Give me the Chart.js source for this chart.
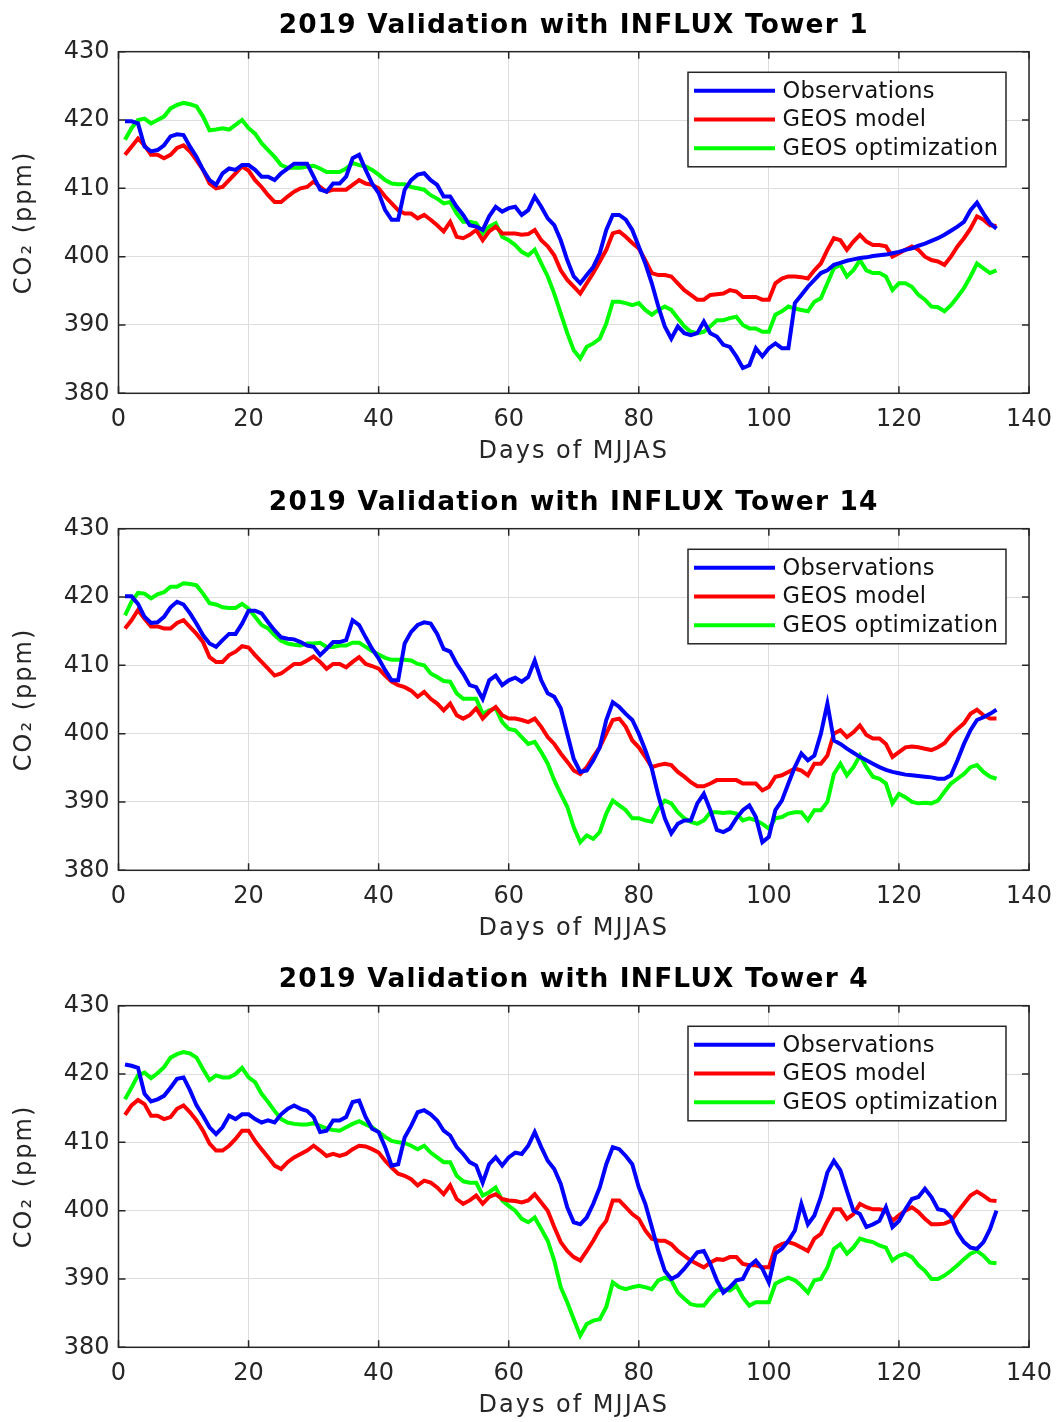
<!DOCTYPE html>
<html><head><meta charset="utf-8">
<script src="https://cdn.jsdelivr.net/npm/chart.js@4.4.1/dist/chart.umd.min.js"></script>
<style>
html,body{margin:0;padding:0;background:#fff;width:1056px;height:1422px;overflow:hidden;}
.panel{position:absolute;left:0;width:1056px;height:477px;}
canvas{display:block;}
</style></head><body>
<div class="panel" style="top:0px"><canvas id="c1" width="1056" height="477"></canvas></div>
<div class="panel" style="top:477px"><canvas id="c2" width="1056" height="477"></canvas></div>
<div class="panel" style="top:954px"><canvas id="c3" width="1056" height="477"></canvas></div>
<script>
const days = [1,2,3,4,5,6,7,8,9,10,11,12,13,14,15,16,17,18,19,20,21,22,23,24,25,26,27,28,29,30,31,32,33,34,35,36,37,38,39,40,41,42,43,44,45,46,47,48,49,50,51,52,53,54,55,56,57,58,59,60,61,62,63,64,65,66,67,68,69,70,71,72,73,74,75,76,77,78,79,80,81,82,83,84,85,86,87,88,89,90,91,92,93,94,95,96,97,98,99,100,101,102,103,104,105,106,107,108,109,110,111,112,113,114,115,116,117,118,119,120,121,122,123,124,125,126,127,128,129,130,131,132,133,134,135];
const seriesNames = ['Observations','GEOS model','GEOS optimization'];
const panelTitles = ['2019 Validation with INFLUX Tower 1','2019 Validation with INFLUX Tower 14','2019 Validation with INFLUX Tower 4'];
const xTicks = [0,20,40,60,80,100,120,140];
const yTicks = [380,390,400,410,420,430];

const t1Obs = [419.8,419.8,419.5,416.1,415.4,415.6,416.3,417.6,417.9,417.8,
416.1,414.6,412.7,411.2,410.5,412.2,412.9,412.7,413.4,413.4,
412.7,411.7,411.7,411.2,412.2,412.9,413.6,413.6,413.6,411.7,
409.8,409.5,410.7,410.7,411.7,414.4,414.9,412.7,410.7,409.3,
406.8,405.4,405.4,409.8,411.2,412.0,412.2,411.2,410.5,408.8,
408.8,407.3,406.1,404.6,404.4,403.9,405.9,407.3,406.6,407.1,
407.3,406.1,406.8,408.8,407.3,405.6,404.6,402.4,399.5,397.1,
396.1,397.3,398.5,400.5,403.9,406.1,406.1,405.4,403.9,401.5,
399.0,396.1,392.7,389.8,388.0,389.8,388.8,388.5,388.8,390.5,
388.8,388.3,387.1,386.8,385.4,383.7,384.1,386.6,385.4,386.6,
387.3,386.6,386.6,393.2,394.4,395.6,396.6,397.6,398.0,398.8,
399.1,399.4,399.6,399.8,399.9,400.1,400.2,400.3,400.5,400.7,
401.0,401.2,401.6,401.9,402.3,402.7,403.2,403.8,404.4,405.1,
406.8,407.9,406.3,404.9,404.1];
const t1Model = [414.9,416.1,417.3,416.3,414.9,414.9,414.4,414.9,415.9,416.3,
415.4,414.1,412.7,410.7,410.0,410.2,411.2,412.2,413.2,412.6,
411.2,410.2,409.0,408.0,408.0,408.8,409.5,410.0,410.2,411.0,
410.2,409.5,409.8,409.8,409.8,410.5,411.2,410.7,410.5,410.0,
408.8,407.8,406.8,406.3,406.3,405.6,406.1,405.4,404.6,403.7,
405.1,402.9,402.7,403.2,403.9,402.4,403.7,404.4,403.4,403.4,
403.4,403.2,403.3,403.9,402.4,401.5,400.2,398.0,396.6,395.6,
394.6,396.1,397.6,399.3,401.0,403.4,403.7,402.9,402.0,401.2,
399.5,397.6,397.3,397.3,397.1,396.1,395.1,394.4,393.7,393.7,
394.4,394.5,394.6,395.1,394.9,394.1,394.1,394.1,393.7,393.7,
396.1,396.8,397.1,397.1,397.0,396.8,398.0,399.0,401.0,402.7,
402.4,401.0,402.2,403.2,402.2,401.7,401.7,401.5,400.0,400.5,
401.0,401.5,401.0,400.0,399.5,399.3,398.8,400.0,401.5,402.7,
404.1,405.9,405.4,404.6,404.5];
const t1Opt = [417.1,418.8,420.0,420.2,419.5,420.0,420.5,421.7,422.2,422.5,
422.3,422.0,420.5,418.5,418.6,418.8,418.6,419.3,420.0,418.8,
418.0,416.6,415.6,414.6,413.4,413.0,413.0,413.0,413.2,413.3,
412.9,412.4,412.4,412.4,412.9,413.7,413.4,413.2,412.7,412.0,
411.2,410.7,410.6,410.6,410.2,410.0,409.8,409.0,408.5,407.8,
408.0,406.3,405.1,405.1,404.9,403.4,404.4,404.9,402.9,402.4,
401.7,400.7,400.2,401.0,399.0,397.1,394.6,391.7,388.8,386.3,
385.1,386.8,387.3,388.0,390.2,393.4,393.4,393.2,392.9,393.2,
392.2,391.5,392.2,392.7,392.2,391.0,389.8,389.0,388.8,389.0,
389.8,390.7,390.7,391.0,391.2,390.0,389.5,389.5,389.0,389.0,
391.5,392.0,392.7,392.4,392.2,392.0,393.4,393.9,396.1,398.3,
398.8,397.1,398.0,399.5,398.0,397.6,397.6,397.1,395.1,396.1,
396.1,395.6,394.4,393.7,392.7,392.6,392.0,392.9,394.1,395.4,
397.1,399.0,398.3,397.6,398.0];

const t14Obs = [420.1,420.1,419.0,417.1,416.2,416.3,417.1,418.5,419.3,418.9,
417.6,416.1,414.4,413.2,412.7,413.7,414.6,414.6,416.1,418.0,
418.0,417.6,416.3,415.1,414.1,413.9,413.8,413.4,412.9,412.7,
411.5,412.4,413.4,413.4,413.7,416.6,415.9,414.1,412.4,411.0,
409.3,407.8,407.8,413.2,414.9,415.9,416.3,416.1,414.6,412.4,
412.0,410.2,408.8,407.1,406.8,405.1,407.8,408.5,407.1,407.8,
408.2,407.6,408.3,410.7,407.8,405.9,405.4,403.7,400.0,396.3,
394.4,394.6,396.1,398.0,402.0,404.6,403.9,402.9,402.0,400.0,
397.6,394.9,391.0,387.6,385.4,386.8,387.3,387.3,389.8,391.2,
388.8,385.9,385.6,386.1,387.6,388.8,389.5,387.8,384.1,384.9,
388.8,390.2,392.7,395.1,397.1,396.1,396.8,400.0,404.4,399.0,
398.5,397.8,397.2,396.6,396.1,395.6,395.1,394.7,394.4,394.2,
394.0,393.9,393.8,393.7,393.6,393.4,393.4,393.9,396.1,398.5,
400.5,402.0,402.4,402.9,403.5];
const t14Model = [415.4,416.6,418.1,416.8,415.7,415.7,415.4,415.4,416.2,416.6,
415.6,414.6,413.4,411.2,410.5,410.5,411.5,412.0,412.8,412.6,
411.5,410.5,409.5,408.5,408.8,409.5,410.2,410.2,410.7,411.3,
410.5,409.5,410.2,410.2,409.7,410.5,411.2,410.2,409.9,409.5,
408.5,407.6,407.1,406.8,406.3,405.4,406.1,405.1,404.4,403.4,
404.4,402.7,402.2,402.7,403.7,402.2,403.2,403.9,402.7,402.2,
402.2,402.0,401.7,402.2,401.0,399.5,398.5,397.1,395.9,394.6,
394.1,395.1,396.6,398.0,400.0,402.0,402.2,401.0,399.0,398.0,
396.6,395.1,395.4,395.6,395.4,394.4,393.7,392.9,392.3,392.3,
392.7,393.2,393.2,393.2,393.2,392.7,392.7,392.7,391.7,392.2,
393.7,393.9,394.4,394.9,394.6,393.9,395.6,395.6,396.8,400.0,
400.5,399.5,400.2,401.2,399.8,399.3,399.3,398.5,396.6,397.3,
398.0,398.1,398.0,397.8,397.6,398.0,398.6,399.8,400.7,401.5,
402.9,403.5,402.7,402.2,402.2];
const t14Opt = [417.3,419.3,420.6,420.5,419.8,420.4,420.7,421.5,421.5,422.0,
421.9,421.7,420.5,419.1,418.9,418.5,418.4,418.4,419.0,418.3,
417.1,415.9,415.4,414.4,413.6,413.2,413.0,412.9,413.2,413.2,
413.3,412.7,412.7,412.9,412.9,413.3,413.3,412.7,412.1,411.6,
411.1,410.8,410.8,410.8,410.7,410.2,410.0,408.8,408.3,407.7,
407.6,405.9,405.1,405.1,405.1,402.9,403.4,403.7,401.7,400.7,
400.5,399.5,398.5,398.8,397.3,395.6,393.2,391.2,389.3,386.3,
384.1,385.1,384.6,385.6,388.3,390.2,389.5,388.8,387.6,387.6,
387.3,387.1,389.0,390.2,389.8,388.5,387.6,387.1,386.8,387.3,
388.5,388.5,388.4,388.5,388.3,387.3,387.6,387.3,386.8,386.1,
387.6,387.8,388.3,388.5,388.5,387.3,388.8,388.8,390.0,394.1,
395.6,393.9,395.1,396.8,395.1,393.7,393.4,392.7,389.8,391.2,
390.7,390.0,389.8,389.9,389.8,390.2,391.5,392.7,393.4,394.1,
395.1,395.4,394.4,393.7,393.4];

const t4Obs = [421.4,421.2,420.9,417.1,416.0,416.3,416.8,418.0,419.3,419.5,
417.6,415.4,413.9,412.2,411.2,412.2,413.9,413.4,414.1,414.1,
413.4,412.9,413.2,412.9,414.1,414.9,415.4,414.9,414.6,413.7,
411.5,411.7,413.2,413.2,413.7,415.9,416.1,413.7,412.0,411.5,
409.3,406.6,406.8,410.7,412.4,414.4,414.7,414.1,413.2,411.7,
411.0,409.3,408.3,407.1,406.6,404.1,406.8,407.8,406.6,407.8,
408.5,408.3,409.5,411.5,409.3,407.3,406.1,403.9,400.5,398.3,
398.0,399.0,401.0,403.4,406.8,409.3,409.0,408.0,406.8,403.4,
401.0,397.6,394.1,391.2,390.0,390.5,391.5,392.7,393.9,394.1,
392.2,389.8,388.0,388.8,389.8,390.0,391.9,392.7,391.5,389.5,
393.7,394.4,395.6,397.1,401.0,398.0,399.3,402.0,405.6,407.3,
405.9,402.9,400.0,399.5,397.6,398.0,398.5,400.5,397.6,398.5,
400.2,401.7,402.0,403.2,402.0,400.2,400.0,399.0,396.8,395.4,
394.6,394.4,395.4,397.3,400.0];
const t4Model = [414.0,415.4,416.2,415.6,413.9,413.9,413.4,413.7,414.9,415.4,
414.4,413.2,411.7,409.8,408.8,408.8,409.5,410.5,411.7,411.7,
410.2,409.0,407.8,406.6,406.1,407.1,407.8,408.3,408.8,409.5,
408.8,408.0,408.3,408.0,408.3,409.0,409.5,409.4,409.0,408.5,
407.3,406.3,405.4,405.1,404.6,403.7,404.4,404.1,403.4,402.4,
403.7,401.7,401.0,401.5,402.2,401.0,402.0,402.4,401.7,401.5,
401.4,401.2,401.5,402.4,401.2,400.0,397.6,395.4,394.1,393.2,
392.7,394.1,395.6,397.3,398.5,401.5,401.5,400.5,399.5,398.8,
397.1,395.9,395.6,395.6,395.1,394.1,393.4,392.7,392.2,391.7,
392.4,392.9,392.8,393.2,393.2,392.2,392.0,392.0,391.7,391.7,
394.6,395.1,395.4,395.1,394.6,394.1,395.9,396.6,398.5,400.2,
400.2,398.8,399.5,401.0,400.5,400.2,400.2,400.0,398.5,399.3,
400.0,400.5,399.8,398.8,398.0,398.0,398.1,398.5,399.8,401.0,
402.2,402.8,402.2,401.5,401.4];
const t4Opt = [416.3,418.0,419.8,420.2,419.4,420.1,421.0,422.4,422.9,423.2,
423.0,422.4,420.7,419.1,419.8,419.5,419.5,420.0,420.9,419.5,
418.8,417.1,415.9,414.6,413.4,412.9,412.7,412.6,412.6,412.8,
412.4,412.0,411.8,411.7,412.2,412.7,413.1,412.6,412.2,411.5,
410.8,410.2,410.0,409.9,409.5,409.0,409.5,408.5,407.8,407.1,
407.1,405.1,404.3,404.1,404.1,402.2,402.7,403.4,401.5,400.7,
400.0,398.8,398.3,399.0,397.3,395.6,392.7,388.8,386.6,384.1,
381.7,383.4,383.9,384.1,385.9,389.5,388.8,388.5,388.8,389.0,
388.8,388.5,389.8,390.2,389.8,388.0,387.1,386.3,386.1,386.1,
387.3,388.3,388.5,388.3,389.0,387.3,386.1,386.6,386.6,386.6,
389.3,389.8,390.2,389.8,389.0,388.0,389.8,390.0,391.7,394.4,
395.1,393.7,394.6,395.9,395.6,395.4,394.9,394.6,392.7,393.4,
393.7,393.2,392.0,391.2,390.0,390.0,390.5,391.2,392.0,392.9,
393.7,394.1,393.4,392.4,392.3];

const FONT = '"DejaVu Sans", "Liberation Sans", sans-serif';
const INK = '#262626';
const COLORS = ['#0000ff', '#ff0000', '#00ff00'];

// letter spacing for titles (MATLAB-like text rendering)
const spacingPlugin = {
  id: 'spacing',
  afterLayout(chart) {
    const wrap = (obj, fn, sp) => {
      if (!obj || obj['__wrapped_' + fn]) return;
      const orig = obj[fn];
      obj[fn] = function (...args) {
        const ctx = chart.ctx;
        const prev = ctx.letterSpacing;
        ctx.letterSpacing = sp;
        try { return orig.apply(this, args); }
        finally { ctx.letterSpacing = prev || '0px'; }
      };
      obj['__wrapped_' + fn] = true;
    };
    wrap(chart.scales.x, 'drawTitle', '2px');
    wrap(chart.scales.y, 'drawTitle', '2px');
    wrap(chart.titleBlock, 'draw', '1.2px');
  }
};

const framePlugin = {
  id: 'frame',
  afterDatasetsDraw(chart) {
    const {ctx, chartArea: a, scales} = chart;
    ctx.save();
    ctx.strokeStyle = INK;
    ctx.lineWidth = 1.5;
    ctx.strokeRect(a.left, a.top, a.right - a.left, a.bottom - a.top);
    const tl = 7;
    ctx.beginPath();
    xTicks.forEach(v => {
      const px = scales.x.getPixelForValue(v);
      ctx.moveTo(px, a.bottom); ctx.lineTo(px, a.bottom - tl);
      ctx.moveTo(px, a.top); ctx.lineTo(px, a.top + tl);
    });
    yTicks.forEach(v => {
      const py = scales.y.getPixelForValue(v);
      ctx.moveTo(a.left, py); ctx.lineTo(a.left + tl, py);
      ctx.moveTo(a.right, py); ctx.lineTo(a.right - tl, py);
    });
    ctx.stroke();
    ctx.restore();
  }
};

const legendPlugin = {
  id: 'boxLegend',
  afterDraw(chart) {
    const {ctx, chartArea: a} = chart;
    const w = 318, h = 94.5;
    const x = a.right - 23 - w, y = a.top + 20.6;
    ctx.save();
    ctx.fillStyle = '#fff';
    ctx.fillRect(x, y, w, h);
    ctx.strokeStyle = INK;
    ctx.lineWidth = 1.5;
    ctx.strokeRect(x, y, w, h);
    chart.data.datasets.forEach((ds, i) => {
      const cy = y + 18.4 + i * 28.8;
      ctx.strokeStyle = ds.borderColor;
      ctx.lineWidth = 4;
      ctx.beginPath(); ctx.moveTo(x + 6, cy); ctx.lineTo(x + 87, cy); ctx.stroke();
      ctx.fillStyle = '#111';
      ctx.font = '22.5px ' + FONT;
      ctx.letterSpacing = '0.3px';
      ctx.textBaseline = 'middle';
      ctx.textAlign = 'left';
      ctx.fillText(ds.label, x + 94.5, cy + 1);
    });
    ctx.restore();
  }
};

function makeChart(id, title, series) {
  const datasets = series.map((vals, i) => ({
    label: seriesNames[i],
    data: days.map((d, k) => ({x: d, y: vals[k]})),
    borderColor: COLORS[i],
    backgroundColor: COLORS[i],
    borderWidth: 4,
    pointRadius: 0,
    tension: 0,
    fill: false
  }));
  new Chart(document.getElementById(id), {
    type: 'line',
    data: {datasets},
    options: {
      responsive: false,
      animation: false,
      devicePixelRatio: 1,
      layout: {padding: {left: 0, right: 27, top: 0, bottom: 0}},
      plugins: {
        legend: {display: false},
        tooltip: {enabled: false},
        title: {
          display: true, text: title, fullSize: false,
          font: {family: FONT, size: 26.4, weight: 'bold'},
          color: '#000',
          padding: {top: 10, bottom: 10}
        }
      },
      scales: {
        x: {
          type: 'linear', min: 0, max: 140,
          afterBuildTicks(s) { s.ticks = xTicks.map(v => ({value: v})); },
          ticks: {font: {family: FONT, size: 24}, color: INK, padding: 12, maxRotation: 0, autoSkip: false},
          grid: {color: '#dddddd', lineWidth: 1, drawTicks: false},
          border: {display: false},
          title: {display: true, text: 'Days of MJJAS', font: {family: FONT, size: 24}, color: INK, padding: {top: 0, bottom: 10.6}},
          afterFit(s) { s.height = 83.7; s.paddingLeft = 0; s.paddingRight = 0; }
        },
        y: {
          min: 380, max: 430,
          afterBuildTicks(s) { s.ticks = yTicks.map(v => ({value: v})); },
          ticks: {font: {family: FONT, size: 24}, color: INK, padding: 9},
          grid: {color: '#dddddd', lineWidth: 1, drawTicks: false},
          border: {display: false},
          title: {display: true, text: 'CO₂ (ppm)', font: {family: FONT, size: 24}, color: INK, padding: {top: 10, bottom: 0}},
          afterFit(s) { s.width = 118.5; s.paddingTop = 0; s.paddingBottom = 0; }
        }
      }
    },
    plugins: [spacingPlugin, framePlugin, legendPlugin]
  });
}

makeChart('c1', panelTitles[0], [t1Obs, t1Model, t1Opt]);
makeChart('c2', panelTitles[1], [t14Obs, t14Model, t14Opt]);
makeChart('c3', panelTitles[2], [t4Obs, t4Model, t4Opt]);
</script>
</body></html>
